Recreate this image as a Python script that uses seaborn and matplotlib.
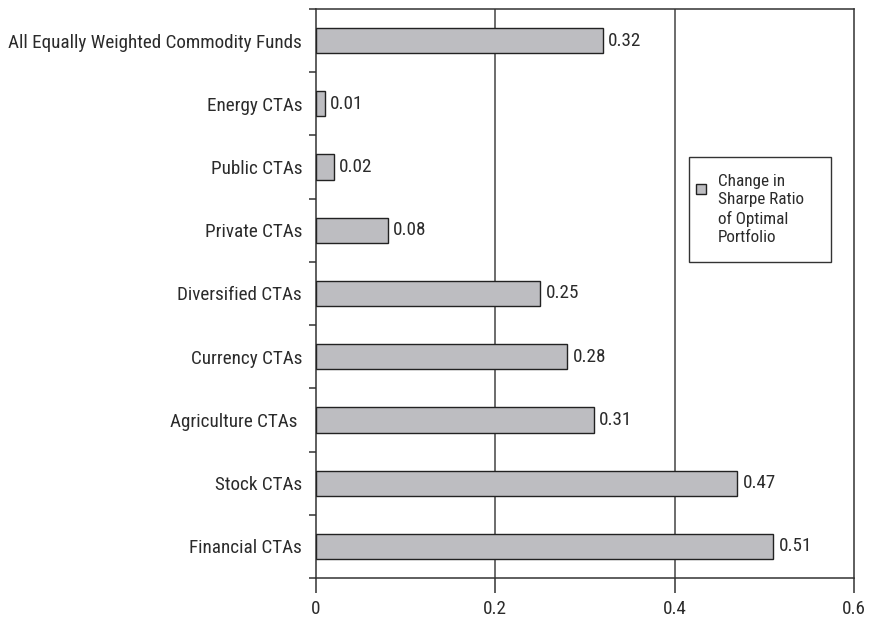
import matplotlib
matplotlib.use("Agg")
import matplotlib.pyplot as plt
from matplotlib.ticker import FixedLocator
from matplotlib.patches import Patch, Rectangle
from matplotlib.legend_handler import HandlerPatch
import seaborn as sns
import pandas as pd

categories = [
    "All Equally Weighted Commodity Funds",
    "Energy CTAs",
    "Public CTAs",
    "Private CTAs",
    "Diversified CTAs",
    "Currency CTAs",
    "Agriculture CTAs ",
    "Stock CTAs",
    "Financial CTAs",
]
sharpe_change = [0.32, 0.01, 0.02, 0.08, 0.25, 0.28, 0.31, 0.47, 0.51]
x_ticks = [0, 0.2, 0.4, 0.6]
x_tick_labels = ["0", "0.2", "0.4", "0.6"]
legend_label = "Change in\nSharpe Ratio\nof Optimal\nPortfolio"

sns.set_theme(style="white")
plt.rcParams["font.family"] = ["Roboto Condensed", "Archivo Narrow", "DejaVu Sans"]
text_color = "#2b2b2b"
bar_color = "#bdbdc1"
fs = 13.8
leg_fs = 12.3

df = pd.DataFrame({"fund": categories, "value": sharpe_change})

fig = plt.figure(figsize=(8.72, 6.2), dpi=100)
W, H = 872, 620
ax_l, ax_r, ax_t, ax_b = 316, 854, 9, 578
ax = fig.add_axes([ax_l / W, 1 - ax_b / H, (ax_r - ax_l) / W, (ax_b - ax_t) / H])

sns.barplot(data=df, y="fund", x="value", orient="h", ax=ax,
            color=bar_color, edgecolor="#222222", linewidth=1.0,
            width=0.4, saturation=1, zorder=3)

ax.set_xlim(0, 0.6)
ax.set_ylim(len(categories) - 0.5, -0.5)
ax.set_xlabel("")
ax.set_ylabel("")

# vertical reference lines at the inner x ticks
for x in [0.2, 0.4]:
    ax.axvline(x, color="#444444", linewidth=1.1, zorder=1)

for spine in ax.spines.values():
    spine.set_color("#333333")
    spine.set_linewidth(1.1)
    spine.set_visible(True)

ax.set_xticks(x_ticks)
ax.set_xticklabels(x_tick_labels, fontsize=fs, color=text_color)
ax.tick_params(axis="x", direction="out", length=11, width=1.1,
               color="#333333", pad=5, bottom=True)
ax.tick_params(axis="y", which="major", length=0, pad=10,
               labelsize=fs, labelcolor=text_color, left=True)
ax.yaxis.set_minor_locator(FixedLocator(
    [i + 0.5 for i in range(-1, len(categories))]))
ax.tick_params(axis="y", which="minor", direction="out", length=5,
               width=1.1, color="#333333", left=True)

# value labels next to each bar
for i, v in enumerate(sharpe_change):
    ax.text(v + 0.006, i, f"{v:.2f}", va="center", ha="left",
            fontsize=fs, color=text_color)

SQ = 7.2  # legend square side, points


def top_square(legend, orig_handle, xdescent, ydescent, width, height, fontsize):
    # small square aligned with the first line of the multi-line label
    return Rectangle((-xdescent - SQ + width - 5.0, -ydescent + height - SQ - 1.5),
                     SQ, SQ)


# legend box spans x 689..831 and starts at y 157 (pixels)
lx0 = (689 - ax_l) / (ax_r - ax_l)
lx1 = (831 - ax_l) / (ax_r - ax_l)
ly1 = 1 - (157 - ax_t) / (ax_b - ax_t)

handle = Patch(facecolor=bar_color, edgecolor="#222222", linewidth=1.0)
leg = ax.legend([handle], [legend_label], loc="upper left",
                bbox_to_anchor=(lx0, ly1 - 0.3, lx1 - lx0, 0.3), mode="expand",
                frameon=True, fancybox=False, fontsize=leg_fs,
                handlelength=0.4, handleheight=5.0, handletextpad=0.3,
                borderpad=1.0, borderaxespad=0, labelcolor=text_color,
                handler_map={Patch: HandlerPatch(patch_func=top_square)})
leg.get_frame().set_edgecolor("#333333")
leg.get_frame().set_linewidth(1.0)
leg.get_frame().set_alpha(1)
for t in leg.get_texts():
    t.set_linespacing(1.27)

fig.savefig("out.png", dpi=100)
